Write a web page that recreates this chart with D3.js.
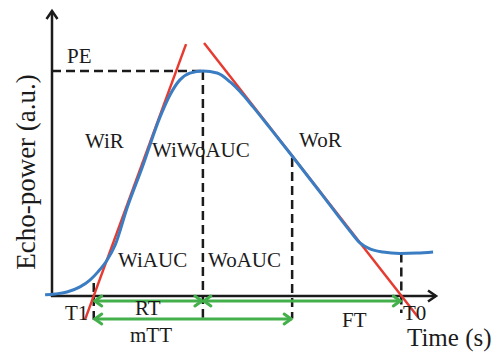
<!DOCTYPE html>
<html>
<head>
<meta charset="utf-8">
<script src="https://cdn.jsdelivr.net/npm/d3@7"></script>
<style>
  html, body { margin: 0; padding: 0; background: #fff; }
  svg { display: block; }
</style>
</head>
<body>
<svg id="chart" width="500" height="354"></svg>
<script>
// Echo-power time-intensity curve (time and power in arbitrary units)
const curveTime  = [-1.8, 0.8, 3.9, 7.3, 9.9, 12.0, 14.4, 16.5, 19.6, 23.5, 28.2, 30.8, 33.4, 36.0, 39.4,
                    43.1, 46.5, 49.9, 52.5, 56.9, 62.7, 70.0, 77.8, 80.4, 83.0, 86.4, 90.9, 95.3, 99.5];
const curvePower = [0.4, 0.7, 1.4, 3.2, 5.6, 8.5, 12.7, 18.0, 31.0, 45.1, 63.0, 70.8, 76.1, 78.5, 79.2,
                    78.5, 75.4, 70.8, 66.6, 59.2, 49.3, 36.6, 22.9, 18.7, 16.6, 15.5, 15.0, 15.1, 15.5];

// Tangent lines: wash-in rate (WiR) and wash-out rate (WoR)
const washInTime   = [8.6, 35.0];
const washInPower  = [-8.4, 88.7];
const washOutTime  = [39.7, 95.6];
const washOutPower = [89.1, -7.5];

// Characteristic times and peak enhancement
const markerNames = ["T1", "Tpeak", "Twash", "T0"];
const markerTimes = [10.9, 39.4, 62.7, 91.2];
const markerTops  = [4.6, 79.2, 48.6, 15.0];
const markerBottoms = [-8.4, -7.7, -7.9, -6.0];
const peakEnhancement = 79.2;

// Interval arrows: [start marker, end marker, row]
const intervalNames = ["RT", "FT", "mTT"];
const intervalStart = ["T1", "Tpeak", "T1"];
const intervalEnd   = ["Tpeak", "T0", "Twash"];
const intervalRow   = [0, 0, 1];

const svg = d3.select("#chart");
const font = "'Liberation Serif', 'Times New Roman', serif";
const ink = "#1b1b1b";
const blue = "#3a7dc3";
const red = "#e63b30";
const green = "#43b04c";

const x = d3.scaleLinear().domain([0, 100]).range([52, 435]);
const y = d3.scaleLinear().domain([0, 100]).range([296, 12]);

const markerAt = Object.fromEntries(markerNames.map((n, i) => [n, markerTimes[i]]));

// Dashed guide lines
const dash = "9,5";
svg.append("line")
  .attr("x1", x(0)).attr("x2", x(markerAt.Tpeak))
  .attr("y1", y(peakEnhancement)).attr("y2", y(peakEnhancement))
  .attr("stroke", ink).attr("stroke-width", 2.5).attr("stroke-dasharray", dash);

svg.selectAll("line.guide")
  .data(markerNames.map((n, i) => ({ t: markerTimes[i], top: markerTops[i], bottom: markerBottoms[i] })))
  .join("line")
  .attr("class", "guide")
  .attr("x1", d => x(d.t)).attr("x2", d => x(d.t))
  .attr("y1", d => y(d.top)).attr("y2", d => y(d.bottom))
  .attr("stroke", ink).attr("stroke-width", 2.5).attr("stroke-dasharray", dash);

// Axes with open arrowheads
const axisG = svg.append("g").attr("stroke", ink).attr("stroke-width", 2.5).attr("fill", "none");
axisG.append("line").attr("x1", x(0)).attr("x2", x(0)).attr("y1", y(0) + 1).attr("y2", y(100) - 1);
axisG.append("line").attr("x1", x(0) - 1).attr("x2", x(100) + 1).attr("y1", y(0)).attr("y2", y(0));
axisG.append("polyline")
  .attr("points", [[x(0) - 5.5, y(100) + 7], [x(0), y(100) - 1], [x(0) + 5.5, y(100) + 7]].join(" "));
axisG.append("polyline")
  .attr("points", [[x(100) - 7, y(0) - 5.5], [x(100) + 1, y(0)], [x(100) - 7, y(0) + 5.5]].join(" "));

// Tangent lines
const lineGen = d3.line().x(d => x(d[0])).y(d => y(d[1]));
svg.append("path")
  .attr("d", lineGen(d3.zip(washInTime, washInPower)))
  .attr("stroke", red).attr("stroke-width", 2.5).attr("fill", "none");
svg.append("path")
  .attr("d", lineGen(d3.zip(washOutTime, washOutPower)))
  .attr("stroke", red).attr("stroke-width", 2.5).attr("fill", "none");

// Time-intensity curve
svg.append("path")
  .attr("d", d3.line().curve(d3.curveMonotoneX).x(d => x(d[0])).y(d => y(d[1]))(d3.zip(curveTime, curvePower)))
  .attr("stroke", blue).attr("stroke-width", 3).attr("fill", "none");

// Interval arrows below the time axis
const rowY = [y(0) + 5, y(0) + 23];
const arrowG = svg.append("g").attr("stroke", green).attr("stroke-width", 3).attr("fill", "none")
  .attr("stroke-linecap", "round").attr("stroke-linejoin", "round");
intervalNames.forEach((name, i) => {
  const x0 = x(markerAt[intervalStart[i]]);
  const x1 = x(markerAt[intervalEnd[i]]);
  const yy = rowY[intervalRow[i]];
  arrowG.append("line").attr("x1", x0 + 1).attr("x2", x1 - 1).attr("y1", yy).attr("y2", yy);
  arrowG.append("polyline").attr("points", [[x0 + 8, yy - 5], [x0 + 1, yy], [x0 + 8, yy + 5]].join(" "));
  arrowG.append("polyline").attr("points", [[x1 - 8, yy - 5], [x1 - 1, yy], [x1 - 8, yy + 5]].join(" "));
});

// Text labels
const labels = [
  { text: "PE", x: 67, y: 63 },
  { text: "WiR", x: 85, y: 148 },
  { text: "WiWoAUC", x: 152, y: 157 },
  { text: "WoR", x: 299, y: 147 },
  { text: "WiAUC", x: 118, y: 267 },
  { text: "WoAUC", x: 208, y: 267 },
  { text: "T1", x: 65, y: 320 },
  { text: "RT", x: 135, y: 315 },
  { text: "mTT", x: 130, y: 342 },
  { text: "FT", x: 342, y: 327 },
  { text: "T0", x: 403, y: 320 }
];
svg.selectAll("text.lbl")
  .data(labels)
  .join("text")
  .attr("class", "lbl")
  .attr("x", d => d.x).attr("y", d => d.y)
  .attr("font-family", font).attr("font-size", 21).attr("fill", ink)
  .text(d => d.text);

svg.append("text")
  .attr("x", 407).attr("y", 346)
  .attr("font-family", font).attr("font-size", 25).attr("fill", ink)
  .text("Time (s)");

svg.append("text")
  .attr("transform", "translate(35,172) rotate(-90)")
  .attr("text-anchor", "middle")
  .attr("font-family", font).attr("font-size", 27).attr("fill", ink)
  .text("Echo-power (a.u.)");
</script>
</body>
</html>
